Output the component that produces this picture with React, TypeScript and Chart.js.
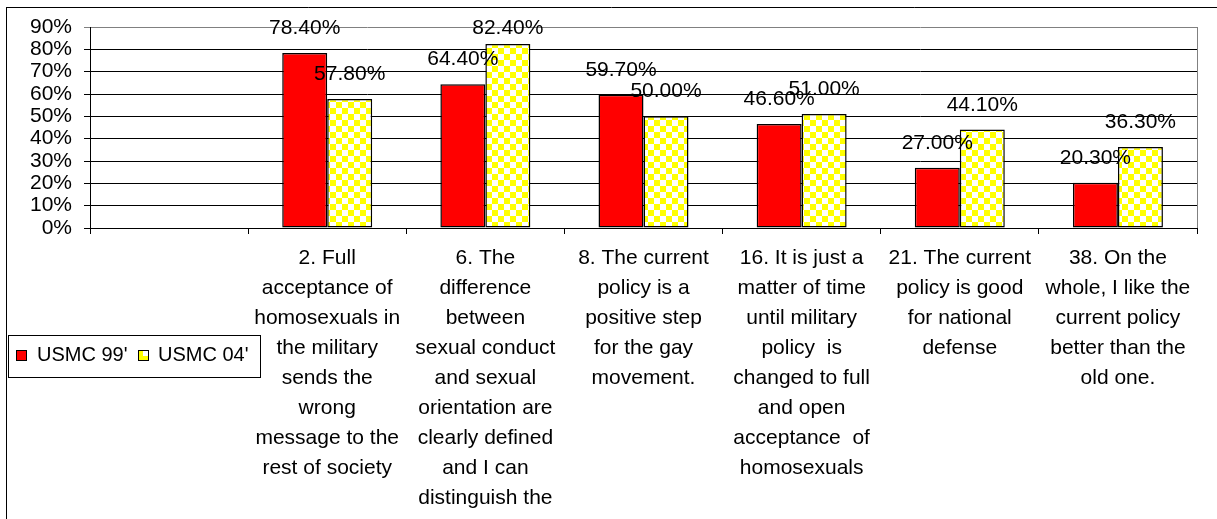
import React, { useEffect, useRef } from "react";
import { Chart, registerables } from "chart.js";

Chart.register(...registerables);

const FONT = '"Liberation Sans", Arial, sans-serif';

const categories: string[][] = [
  [""],
  ["2. Full", "acceptance of", "homosexuals in", "the military", "sends the", "wrong", "message to the", "rest of society"],
  ["6. The", "difference", "between", "sexual conduct", "and sexual", "orientation are", "clearly defined", "and I can", "distinguish the"],
  ["8. The current", "policy is a", "positive step", "for the gay", "movement."],
  ["16. It is just a", "matter of time", "until military", "policy  is", "changed to full", "and open", "acceptance  of", "homosexuals"],
  ["21. The current", "policy is good", "for national", "defense"],
  ["38. On the", "whole, I like the", "current policy", "better than the", "old one."],
];

const seriesNames = ["USMC 99'", "USMC 04'"];
const usmc99: (number | null)[] = [null, 78.4, 64.4, 59.7, 46.6, 27.0, 20.3];
const usmc04: (number | null)[] = [null, 57.8, 82.4, 50.0, 51.0, 44.1, 36.3];

const yMin = 0;
const yMax = 90;
const yStep = 10;

function makeChecker(size: number): CanvasPattern | string {
  const c = document.createElement("canvas");
  c.width = size * 2;
  c.height = size * 2;
  const g = c.getContext("2d");
  if (!g) return "#FFFF00";
  g.fillStyle = "#FFFF00";
  g.fillRect(0, 0, size * 2, size * 2);
  g.fillStyle = "#FFFFFF";
  g.fillRect(0, 0, size, size);
  g.fillRect(size, size, size, size);
  return g.createPattern(c, "repeat") || "#FFFF00";
}

const framePlugin = {
  id: "frame",
  beforeDraw(chart: any) {
    const ctx = chart.ctx;
    ctx.save();
    ctx.strokeStyle = "#000";
    ctx.lineWidth = 1;
    ctx.beginPath();
    ctx.moveTo(6, 7.5);
    ctx.lineTo(chart.width, 7.5);
    ctx.moveTo(6.5, 7);
    ctx.lineTo(6.5, chart.height);
    ctx.stroke();
    ctx.restore();
  },
  afterDraw(chart: any) {
    const ctx = chart.ctx;
    const a = chart.chartArea;
    ctx.save();
    ctx.strokeStyle = "#808080";
    ctx.lineWidth = 1;
    ctx.beginPath();
    ctx.moveTo(Math.round(a.right) + 0.5, a.top);
    ctx.lineTo(Math.round(a.right) + 0.5, a.bottom);
    ctx.stroke();
    ctx.restore();
  },
};

const labelPlugin = {
  id: "barLabels",
  afterDatasetsDraw(chart: any) {
    const ctx = chart.ctx;
    ctx.save();
    ctx.font = `21px ${FONT}`;
    ctx.fillStyle = "#000";
    ctx.textAlign = "center";
    ctx.textBaseline = "alphabetic";
    chart.data.datasets.forEach((ds: any, di: number) => {
      const meta = chart.getDatasetMeta(di);
      meta.data.forEach((el: any, i: number) => {
        const v = ds.data[i];
        if (v === null || v === undefined) return;
        const y = Math.max(el.y - 19, 34);
        ctx.fillText(`${v.toFixed(2)}%`, el.x, y);
      });
    });
    ctx.restore();
  },
};

const legendPlugin = {
  id: "customLegend",
  afterDraw(chart: any) {
    const ctx = chart.ctx;
    ctx.save();
    ctx.fillStyle = "#fff";
    ctx.fillRect(8.5, 335.5, 252, 42);
    ctx.strokeStyle = "#000";
    ctx.lineWidth = 1;
    ctx.strokeRect(8.5, 335.5, 252, 42);
    ctx.font = `20px ${FONT}`;
    ctx.textBaseline = "alphabetic";
    ctx.textAlign = "left";
    const names = chart.data.datasets.map((d: any) => d.label);
    ctx.fillStyle = "#FF0000";
    ctx.fillRect(16.5, 350.5, 10, 10);
    ctx.strokeRect(16.5, 350.5, 10, 10);
    ctx.fillStyle = "#000";
    ctx.fillText(names[0], 37, 361);
    ctx.fillStyle = "#FFFF00";
    ctx.fillRect(138.5, 350.5, 10, 10);
    ctx.fillStyle = "#FFFFFF";
    ctx.fillRect(143, 351, 5, 5);
    ctx.strokeRect(138.5, 350.5, 10, 10);
    ctx.fillStyle = "#000";
    ctx.fillText(names[1], 158, 361);
    ctx.restore();
  },
};

export default function App() {
  const ref = useRef<HTMLCanvasElement | null>(null);

  useEffect(() => {
    if (!ref.current) return;
    const checker = makeChecker(6);
    const chart = new Chart(ref.current, {
      type: "bar",
      data: {
        labels: categories,
        datasets: [
          {
            label: seriesNames[0],
            data: usmc99,
            backgroundColor: "#FF0000",
            borderColor: "#000",
            borderWidth: 1.5,
            borderSkipped: false,
            categoryPercentage: 0.569,
            barPercentage: 1,
          },
          {
            label: seriesNames[1],
            data: usmc04,
            backgroundColor: checker as any,
            borderColor: "#000",
            borderWidth: 1.5,
            borderSkipped: false,
            categoryPercentage: 0.569,
            barPercentage: 1,
          },
        ],
      },
      options: {
        responsive: false,
        animation: false,
        events: [],
        layout: { padding: { left: 0, top: 27, right: 20, bottom: 0 } },
        plugins: {
          legend: { display: false },
          tooltip: { enabled: false },
          title: { display: false },
        },
        scales: {
          x: {
            grid: {
              offset: true,
              drawOnChartArea: false,
              drawTicks: true,
              tickLength: 6,
              color: "#000",
              lineWidth: 1,
            },
            border: { display: true, color: "#000", width: 1 },
            ticks: {
              autoSkip: false,
              maxRotation: 0,
              minRotation: 0,
              padding: 9,
              color: "#000",
              font: { family: FONT, size: 21, lineHeight: "30px" as any },
            },
            afterFit(scale: any) {
              scale.height = 519 - 228;
            },
          },
          y: {
            min: yMin,
            max: yMax,
            grid: {
              drawTicks: true,
              tickLength: 6,
              color: (c: any) => (c.tick && c.tick.value === yMax ? "#808080" : "#000"),
              lineWidth: 1,
            },
            border: { display: true, color: "#000", width: 1 },
            ticks: {
              stepSize: yStep,
              autoSkip: false,
              padding: 12,
              color: "#000",
              font: { family: FONT, size: 21 },
              callback: (v: any) => `${v}%`,
            },
            afterFit(scale: any) {
              scale.width = 90;
            },
          },
        },
      },
      plugins: [framePlugin, labelPlugin, legendPlugin],
    });
    return () => chart.destroy();
  }, []);

  return (
    <div
      style={{
        position: "fixed",
        left: 0,
        top: 0,
        width: 1217,
        height: 519,
        overflow: "hidden",
        background: "#fff",
      }}
    >
      <canvas ref={ref} width={1217} height={519} style={{ display: "block" }} />
    </div>
  );
}
